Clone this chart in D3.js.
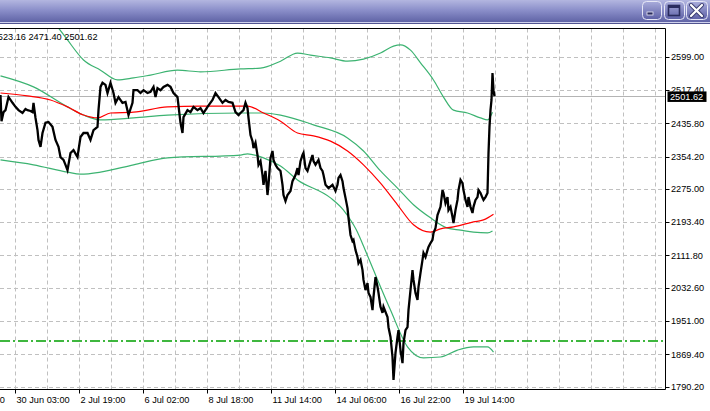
<!DOCTYPE html>
<html><head><meta charset="utf-8">
<script src="https://cdn.jsdelivr.net/npm/d3@7"></script>
<style>html,body{margin:0;padding:0;background:#fff;overflow:hidden}</style>
</head><body><svg id="c" width="710" height="411"></svg>
<script>
// ---------- data (bar index = hourly bar number) ----------
const priceBars = [0,1,3,5,8,10,12,15,18,22,25,27,30,32,33,35,37,38,40,42,45,48,52,55,58,60,63,65,67,70,73,77,78,80,83,87,90,93,97,98,100,102,105,107,110,113,115,118,122,125,128,132,133,137,140,143,147,150,153,155,157,160,163,167,170,173,177,180,182,183,187,190,193,197,200,203,207,212,215,218,222,225,228,232,235,238,240,243,245,247,248,250,252,253,255,257,258,260,262,263,265,267,268,270,272,273,275,277,280,282,283,285,287,290,292,295,297,298,300,302,303,305,307,310,312,313,315,318,320,322,323,325,328,332,335,337,338,340,342,343,345,347,348,350,352,353,355,357,358,360,362,363,365,367,368,370,372,373,375,377,378,380,382,383,387,388,390,392,393,395,397,398,400,402,403,405,407,408,410,412,413,415,417,418,420,422,423,425,427,428,430,432,433,435,437,440,442,443,445,447,448,450,452,453,455,457,458,460,462,463,465,467,468,470,472,473,475,477,478,480,482,483,485,487,488,489,490,491,492,493,494];
const priceValues = [2505,2441,2463,2468,2500,2493,2486,2476,2468,2461,2471,2468,2466,2463,2486,2449,2419,2395,2378,2412,2437,2439,2427,2395,2378,2353,2346,2334,2321,2363,2370,2353,2370,2402,2412,2412,2395,2419,2427,2468,2525,2535,2530,2510,2535,2510,2486,2500,2486,2488,2456,2486,2517,2517,2510,2517,2510,2513,2525,2500,2522,2517,2525,2530,2525,2510,2500,2437,2412,2451,2468,2463,2476,2468,2473,2461,2476,2493,2510,2500,2486,2493,2488,2486,2463,2456,2461,2468,2486,2473,2449,2407,2392,2375,2388,2358,2334,2343,2309,2285,2319,2260,2285,2351,2368,2346,2334,2326,2319,2285,2260,2245,2260,2270,2294,2309,2326,2309,2343,2358,2363,2326,2319,2343,2358,2343,2334,2346,2326,2319,2309,2285,2277,2285,2270,2285,2302,2309,2294,2277,2253,2228,2204,2162,2147,2150,2125,2108,2093,2101,2076,2052,2027,2044,2020,2010,1978,2010,2059,2035,2020,1986,1971,1986,1961,1936,1912,1863,1807,1873,1912,1929,1880,1848,1897,1929,1936,1978,2027,2076,2052,2020,2003,2035,2069,2101,2118,2108,2125,2133,2142,2150,2167,2179,2211,2231,2272,2265,2240,2255,2223,2231,2206,2191,2223,2248,2272,2297,2289,2272,2248,2231,2255,2231,2216,2231,2248,2255,2272,2265,2253,2248,2255,2265,2363,2427,2468,2493,2559,2517,2502];

const upperBars = [0,33,50,58,67,83,100,117,133,150,177,200,240,260,280,297,310,330,347,363,380,393,400,410,420,433,443,453,467,480,487,492];
const upperValues = [2758,2718,2689,2669,2640,2591,2566,2542,2547,2554,2566,2562,2569,2571,2588,2608,2603,2596,2588,2593,2608,2625,2628,2615,2584,2542,2500,2468,2461,2449,2444,2463];

const midBars = [0,33,67,83,100,133,167,240,263,280,313,347,363,380,397,413,430,447,460,473,487,492];
const midValues = [2552,2525,2476,2456,2444,2449,2456,2461,2461,2456,2432,2400,2368,2319,2277,2236,2204,2179,2174,2169,2167,2172];

const lowerBars = [0,33,67,80,100,133,167,240,247,263,280,297,330,343,353,357,363,373,390,407,423,440,457,473,487,493];
const lowerValues = [2346,2334,2316,2311,2316,2334,2351,2358,2361,2351,2331,2297,2253,2223,2187,2169,2135,2076,1978,1888,1861,1863,1880,1888,1888,1875];

const maBars = [0,27,50,67,83,97,110,133,167,200,233,247,263,280,297,313,330,347,363,380,397,413,430,440,453,473,483,493];
const maValues = [2510,2503,2493,2476,2456,2449,2461,2463,2476,2478,2478,2478,2461,2441,2412,2405,2392,2368,2334,2289,2236,2187,2169,2177,2182,2194,2199,2213];

const levelValue = 1902;
const lastPrice = 2501.62;
const headerText = "2523.16 2471.40 2501.62";

const priceTicks = [2599.00, 2517.40, 2435.80, 2354.20, 2275.00, 2193.40, 2111.80, 2032.60, 1951.00, 1869.40, 1790.20];
const gridBars = d3.range(15, 665, 32);
const timeTickBars = [-49, 15, 79, 143, 207, 271, 335, 399, 463];
const timeTickLabels = ["27 Jun 11:00","30 Jun 03:00","2 Jul 19:00","6 Jul 02:00","8 Jul 18:00","11 Jul 14:00","14 Jul 06:00","16 Jul 22:00","19 Jul 14:00"];

// ---------- layout ----------
const W = 710, H = 411;
const plot = {left: 0, right: 665.5, top: 28.5, bottom: 389.5};
const FONT = "'Liberation Sans', Arial, sans-serif";

const svg = d3.select("#c");
const x = d3.scaleLinear().domain([0, 665]).range([0.5, 665.5]);
const y = d3.scaleLinear().domain([1790.2, 2599]).range([386.7, 56.7]);

// ---------- title bar ----------
const defs = svg.append("defs");
const g1 = defs.append("linearGradient").attr("id","tb").attr("x1",0).attr("y1",0).attr("x2",0).attr("y2",1);
g1.append("stop").attr("offset","0").attr("stop-color","#b3b6e0");
g1.append("stop").attr("offset","0.45").attr("stop-color","#8a8ec9");
g1.append("stop").attr("offset","1").attr("stop-color","#5c60a3");
const g2 = defs.append("linearGradient").attr("id","btn").attr("x1",0).attr("y1",0).attr("x2",0).attr("y2",1);
g2.append("stop").attr("offset","0").attr("stop-color","#a9acdb");
g2.append("stop").attr("offset","1").attr("stop-color","#5d60a6");
defs.append("clipPath").attr("id","clip").append("rect")
  .attr("x", plot.left).attr("y", plot.top).attr("width", plot.right - plot.left).attr("height", plot.bottom - plot.top);

svg.append("rect").attr("x",0).attr("y",0).attr("width",W).attr("height",23).attr("fill","url(#tb)");
svg.append("rect").attr("x",0).attr("y",22).attr("width",W).attr("height",1).attr("fill","#cfd1ec");
svg.append("rect").attr("x",0).attr("y",23).attr("width",W).attr("height",1).attr("fill","#50538f");

const buttons = [{x:642,w:19},{x:664,w:20},{x:686,w:21}];
buttons.forEach(b => {
  svg.append("rect").attr("x",b.x+0.5).attr("y",1.5).attr("width",b.w).attr("height",18).attr("rx",4)
    .attr("fill","url(#btn)").attr("stroke","#e6e7f6").attr("stroke-width",1);
});
// minimize glyph
svg.append("rect").attr("x",647).attr("y",12).attr("width",6).attr("height",3).attr("fill","#2a2c5e").attr("stroke","#e8e8f6").attr("stroke-width",0.8);
// maximize glyph
svg.append("rect").attr("x",668.5).attr("y",5.5).attr("width",11).attr("height",10).attr("fill","none").attr("stroke","#2a2c5e").attr("stroke-width",1.6);
svg.append("rect").attr("x",668.5).attr("y",5.5).attr("width",11).attr("height",2.5).attr("fill","#2a2c5e");
// close glyph
svg.append("path").attr("d","M691,5 L702,16 M702,5 L691,16").attr("stroke","#3a3c70").attr("stroke-width",4).attr("stroke-linecap","round");
svg.append("path").attr("d","M691,5 L702,16 M702,5 L691,16").attr("stroke","#ffffff").attr("stroke-width",2.2).attr("stroke-linecap","round");

// ---------- grid ----------
const grid = svg.append("g").attr("clip-path","url(#clip)");
grid.selectAll("line.v").data(gridBars).join("line")
  .attr("x1", d => x(d)).attr("x2", d => x(d)).attr("y1", plot.top).attr("y2", plot.bottom)
  .attr("stroke","#c0c0c0").attr("stroke-dasharray","4,3");
grid.selectAll("line.h").data(priceTicks).join("line")
  .attr("x1", plot.left).attr("x2", plot.right).attr("y1", d => Math.round(y(d))+0.5).attr("y2", d => Math.round(y(d))+0.5)
  .attr("stroke","#c0c0c0").attr("stroke-dasharray","4,3");

// ---------- series ----------
const series = svg.append("g").attr("clip-path","url(#clip)");
// current price line
series.append("line").attr("x1",plot.left).attr("x2",plot.right)
  .attr("y1", Math.round(y(lastPrice))+0.5).attr("y2", Math.round(y(lastPrice))+0.5)
  .attr("stroke","#b4b4b4").attr("stroke-width",1);
// dash-dot level
series.append("line").attr("x1",plot.left).attr("x2",plot.right)
  .attr("y1", Math.round(y(levelValue))).attr("y2", Math.round(y(levelValue)))
  .attr("stroke","#00a000").attr("stroke-width",1.6).attr("stroke-dasharray","10,3,2,3");

const smooth = d3.line().curve(d3.curveMonotoneX);
function drawSmooth(bars, vals, color, w){
  series.append("path").attr("d", smooth(bars.map((b,i)=>[x(b), y(vals[i])])))
    .attr("fill","none").attr("stroke",color).attr("stroke-width",w);
}
drawSmooth(upperBars, upperValues, "#3cb371", 1.2);
drawSmooth(midBars, midValues, "#3cb371", 1.2);
drawSmooth(lowerBars, lowerValues, "#3cb371", 1.2);
drawSmooth(maBars, maValues, "#ff0000", 1.2);

const pl = d3.line().x((d,i)=>x(priceBars[i])).y(d=>y(d));
series.append("path").attr("d", pl(priceValues)).attr("fill","none")
  .attr("stroke","#000").attr("stroke-width",2.3).attr("stroke-linejoin","miter");

// ---------- frame & axes ----------
svg.append("line").attr("x1",plot.left).attr("x2",plot.right).attr("y1",plot.top).attr("y2",plot.top).attr("stroke","#000");
svg.append("line").attr("x1",plot.left).attr("x2",plot.right).attr("y1",plot.bottom).attr("y2",plot.bottom).attr("stroke","#000");
svg.append("line").attr("x1",plot.right).attr("x2",plot.right).attr("y1",plot.top).attr("y2",plot.bottom).attr("stroke","#000");

// right axis
const ra = svg.append("g");
ra.selectAll("line").data(priceTicks).join("line")
  .attr("x1",plot.right).attr("x2",plot.right+4).attr("y1", d=>Math.round(y(d))+0.5).attr("y2", d=>Math.round(y(d))+0.5)
  .attr("stroke","#000");
ra.selectAll("text").data(priceTicks).join("text")
  .attr("x", 671).attr("y", d=>y(d)+3.3)
  .attr("font-family",FONT).attr("font-size","9.2px").attr("fill","#000")
  .text(d=>d3.format(".2f")(d));

// last price marker
const ly = y(lastPrice);
svg.append("rect").attr("x",667.5).attr("y",ly-5).attr("width",39).attr("height",10.5).attr("fill","#000");
svg.append("text").attr("x",670).attr("y",ly+3.6).attr("font-family",FONT).attr("font-size","9.2px").attr("fill","#fff")
  .text(d3.format(".2f")(lastPrice));

// bottom axis
const ba = svg.append("g");
ba.selectAll("line").data(timeTickBars).join("line")
  .attr("x1", d=>x(d)).attr("x2", d=>x(d)).attr("y1", plot.bottom).attr("y2", plot.bottom+4)
  .attr("stroke","#000");
ba.selectAll("text").data(timeTickBars).join("text")
  .attr("x", d=>x(d)+1).attr("y", 402.5)
  .attr("font-family",FONT).attr("font-size","9.2px").attr("fill","#000")
  .text((d,i)=>timeTickLabels[i]);

// header values
svg.append("text").attr("x",97.5).attr("y",40).attr("text-anchor","end")
  .attr("font-family",FONT).attr("font-size","9.2px").attr("fill","#000").text(headerText);
</script>
</body></html>
